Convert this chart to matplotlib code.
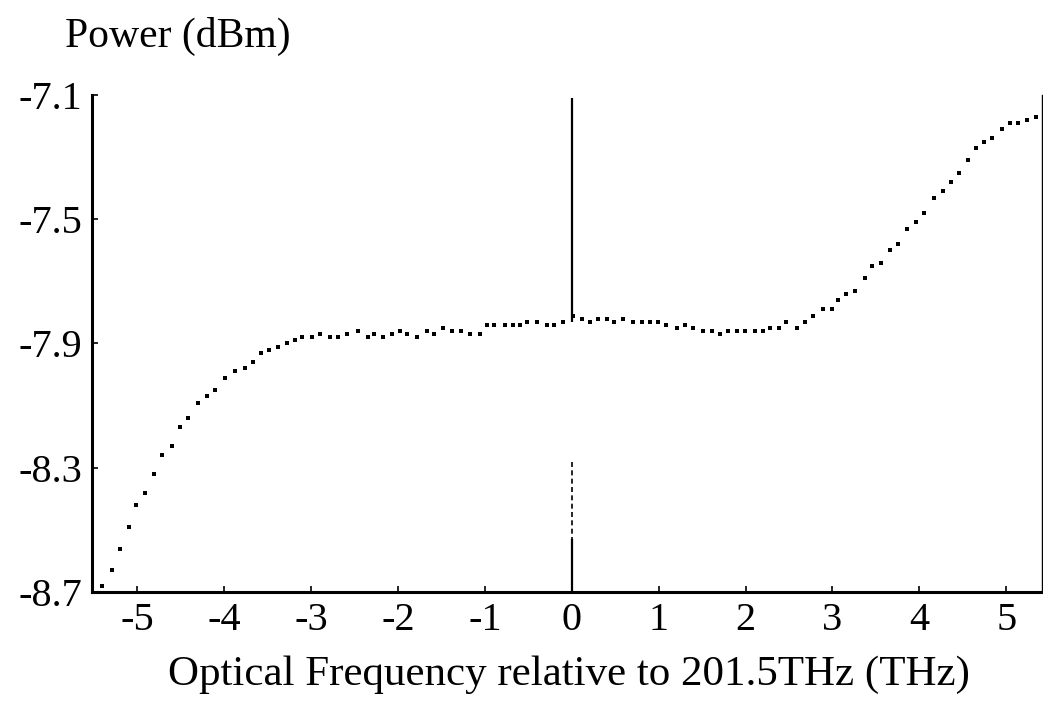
import matplotlib
matplotlib.use("Agg")
import matplotlib.pyplot as plt

freq = [-5.40, -5.29, -5.20, -5.09, -5.01, -4.91, -4.81, -4.71, -4.60, -4.51,
        -4.41, -4.30, -4.20, -4.10,
        -3.99, -3.88, -3.76, -3.67, -3.57, -3.48, -3.38, -3.28, -3.19, -3.10,
        -2.99, -2.90, -2.78, -2.69, -2.59,
        -2.46, -2.35, -2.27, -2.17, -2.07, -1.98, -1.89, -1.78, -1.67, -1.58,
        -1.48, -1.38, -1.27, -1.17, -1.06, -0.98, -0.89, -0.77, -0.68, -0.60,
        -0.51, -0.40, -0.29, -0.20,
        -0.10, 0.01, 0.12, 0.21, 0.30, 0.40, 0.49, 0.59, 0.70, 0.81,
        0.90, 0.99, 1.09, 1.21, 1.30, 1.39, 1.51, 1.61, 1.70, 1.80,
        1.90, 1.99, 2.11,
        2.20, 2.28, 2.38, 2.47, 2.59, 2.68, 2.78, 2.89, 2.99, 3.06,
        3.16, 3.26, 3.37, 3.46, 3.56, 3.66, 3.75, 3.86, 3.96, 4.05,
        4.17, 4.27, 4.36, 4.45, 4.56, 4.65, 4.74, 4.84, 4.95, 5.04,
        5.13, 5.24, 5.34]
power = [-8.68, -8.63, -8.56, -8.49, -8.42, -8.38, -8.32, -8.26, -8.23, -8.17,
         -8.14, -8.09, -8.07, -8.05,
         -8.01, -7.99, -7.98, -7.96, -7.93, -7.92, -7.91, -7.90, -7.89, -7.88,
         -7.88, -7.87, -7.88, -7.88, -7.87,
         -7.86, -7.88, -7.87, -7.88, -7.87, -7.86, -7.87, -7.88, -7.86, -7.87,
         -7.85, -7.86, -7.86, -7.87, -7.87, -7.84, -7.84, -7.84, -7.84, -7.84,
         -7.83, -7.83, -7.84, -7.84,
         -7.83, -7.81, -7.82, -7.83, -7.82, -7.82, -7.83, -7.82, -7.83, -7.83,
         -7.83, -7.83, -7.84, -7.85, -7.84, -7.85, -7.86, -7.86, -7.87, -7.86,
         -7.86, -7.86, -7.86,
         -7.86, -7.85, -7.85, -7.83, -7.85, -7.83, -7.81, -7.79, -7.79, -7.76,
         -7.74, -7.73, -7.69, -7.65, -7.64, -7.60, -7.58, -7.53, -7.51, -7.48,
         -7.43, -7.41, -7.38, -7.35, -7.31, -7.27, -7.25, -7.24, -7.21, -7.19,
         -7.19, -7.18, -7.17]

xticks = [-5, -4, -3, -2, -1, 0, 1, 2, 3, 4, 5]
yticks = [-8.7, -8.3, -7.9, -7.5, -7.1]
ytick_labels = ["-8.7", "-8.3", "-7.9", "-7.5", "-7.1"]

# centre marker at 0 THz: solid top part, dashed + solid bottom part
marker_x = 0.0
marker_top = (-7.11, -7.83)
marker_dash = (-8.28, -8.53)
marker_bottom = (-8.53, -8.70)

plt.rcParams["font.family"] = ["Liberation Serif", "DejaVu Serif"]
plt.rcParams["axes.unicode_minus"] = False

fig = plt.figure(figsize=(10.43, 7.10), dpi=100)
ax = fig.add_axes([0.0882, 0.1662, 0.9108, 0.7000])

ax.plot(freq, power, linestyle="none", marker="s", markersize=2.4,
        color="black", markeredgewidth=0)

ax.vlines(marker_x, *marker_top, color="black", lw=1.6)
ax.vlines(marker_x, *marker_dash, color="black", lw=1.2, linestyles=(0, (3, 2)))
ax.vlines(marker_x, *marker_bottom, color="black", lw=1.6)

ax.set_xlim(-5.52, 5.41)
ax.set_ylim(-8.7, -7.1)
ax.set_xticks(xticks)
ax.set_xticklabels([str(t) for t in xticks])
ax.set_yticks(yticks)
ax.set_yticklabels(ytick_labels)
ax.tick_params(direction="in", length=4, width=1.2, labelsize=29, pad=7)

ax.spines["top"].set_visible(False)
ax.spines["left"].set_linewidth(2.2)
ax.spines["bottom"].set_linewidth(2.2)
ax.spines["right"].set_linewidth(1.0)

fig.text(65 / 1043, 1 - 47 / 710, "Power (dBm)", fontsize=30,
         ha="left", va="baseline")
fig.text(569 / 1043, 1 - 685 / 710,
         "Optical Frequency relative to 201.5THz (THz)", fontsize=31,
         ha="center", va="baseline")

fig.savefig("out.png", dpi=100)
